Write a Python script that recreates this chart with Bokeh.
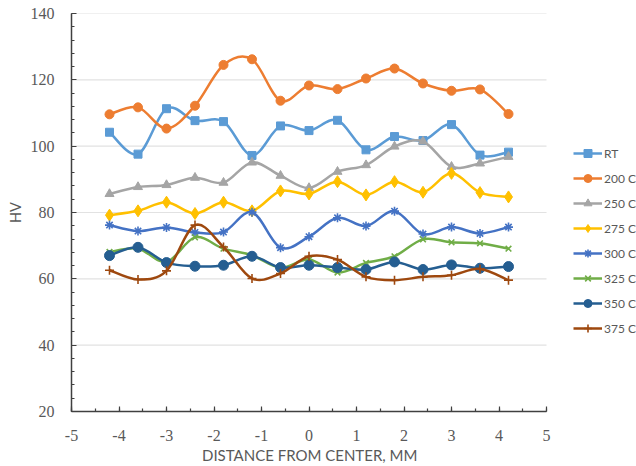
from bokeh.plotting import figure
from bokeh.models import (ColumnDataSource, Range1d, SingleIntervalTicker, Legend, LegendItem, Title)
from bokeh.embed import file_html
from bokeh.resources import INLINE

# ---------------- data ----------------
distance = [-4.2, -3.6, -3.0, -2.4, -1.8, -1.2, -0.6, 0.0, 0.6, 1.2, 1.8, 2.4, 3.0, 3.6, 4.2]

hv_rt   = [104.2, 97.6, 111.3, 107.7, 107.4, 97.2, 106.1, 104.7, 107.8, 98.9, 102.9, 101.7, 106.5, 97.3, 98.2]
hv_200c = [109.6, 111.7, 105.3, 112.2, 124.5, 126.2, 113.7, 118.3, 117.2, 120.4, 123.4, 118.9, 116.7, 117.1, 109.7]
hv_250c = [85.6, 87.7, 88.3, 90.5, 89.0, 95.1, 91.1, 87.4, 92.3, 94.3, 99.9, 101.4, 93.8, 94.8, 96.8]
hv_275c = [79.2, 80.5, 83.1, 79.7, 83.1, 80.5, 86.5, 85.6, 89.3, 85.3, 89.3, 86.1, 91.8, 86.0, 84.7]
hv_300c = [76.2, 74.4, 75.5, 74.0, 74.1, 80.1, 69.4, 72.7, 78.4, 75.9, 80.4, 73.5, 75.6, 73.7, 75.6]
hv_325c = [68.1, 69.1, 65.1, 72.5, 69.1, 67.1, 63.4, 65.8, 61.9, 64.8, 66.8, 71.9, 71.0, 70.7, 69.1]
hv_350c = [67.0, 69.5, 64.9, 63.8, 64.1, 66.8, 63.4, 64.1, 63.4, 62.8, 65.1, 62.8, 64.2, 63.2, 63.7]
hv_375c = [62.6, 59.8, 62.4, 76.2, 69.6, 60.1, 61.6, 66.8, 65.8, 60.6, 59.6, 60.6, 61.1, 63.0, 59.6]

series_names = ["RT", "200 C", "250 C", "275 C", "300 C", "325 C", "350 C", "375 C"]
series_values = [hv_rt, hv_200c, hv_250c, hv_275c, hv_300c, hv_325c, hv_350c, hv_375c]
series_colors = ["#5B9BD5", "#ED7D31", "#A5A5A5", "#FFC000", "#4472C4", "#70AD47", "#255E91", "#9E480E"]
series_markers = ["square", "circle", "triangle", "diamond", "asterisk", "x", "circle", "cross"]
series_sizes = [8, 9, 9, 12, 9, 8, 10, 9]

x_ticks = [-5, -4, -3, -2, -1, 0, 1, 2, 3, 4, 5]
y_ticks = [20, 40, 60, 80, 100, 120, 140]
x_title = "DISTANCE  FROM CENTER, MM"
y_title = "HV"

TICK_FONT = "Liberation Serif"
LABEL_FONT = "Lato"
TEXT_COLOR = "#595959"
AXIS_COLOR = "#404040"

# layout (pixels)
W, H = 636, 466
LEFT, TOP, BOTTOM = 71, 13, 55
AXIS_RIGHT_PX = 546           # where x = 5 sits on the canvas
px_per_unit = (AXIS_RIGHT_PX - LEFT) / (x_ticks[-1] - x_ticks[0])
x_end = x_ticks[-1] + (W - AXIS_RIGHT_PX) / px_per_unit   # frame extends under the legend

p = figure(width=W, height=H, output_backend="svg", toolbar_location=None,
           x_range=Range1d(x_ticks[0], x_end), y_range=Range1d(y_ticks[0], y_ticks[-1]),
           min_border_left=LEFT, min_border_right=0, min_border_top=TOP, min_border_bottom=BOTTOM)
p.outline_line_color = None
p.background_fill_color = "white"
p.border_fill_color = "white"

# axes
p.xaxis.ticker = SingleIntervalTicker(interval=1, num_minor_ticks=2)
p.yaxis.ticker = SingleIntervalTicker(interval=20, num_minor_ticks=5)
p.xaxis.bounds = (x_ticks[0], x_ticks[-1])
p.xaxis.major_label_overrides = {v: str(v) for v in x_ticks}
p.yaxis.major_label_overrides = {v: str(v) for v in y_ticks}
for ax in (p.xaxis[0], p.yaxis[0]):
    ax.axis_line_color = AXIS_COLOR
    ax.axis_line_width = 1.5
    ax.major_tick_line_color = AXIS_COLOR
    ax.minor_tick_line_color = AXIS_COLOR
    ax.major_tick_line_width = 1.2
    ax.minor_tick_line_width = 1.2
    ax.major_tick_in = 5
    ax.major_tick_out = 0
    ax.minor_tick_in = 3
    ax.minor_tick_out = 0
    ax.major_label_text_font = TICK_FONT
    ax.major_label_text_font_size = "16px"
    ax.major_label_text_color = TEXT_COLOR
    ax.axis_label_text_font = LABEL_FONT
    ax.axis_label_text_font_size = "14.5px"
    ax.axis_label_text_font_style = "normal"
    ax.axis_label_text_color = TEXT_COLOR

p.yaxis.axis_label = y_title
p.xaxis.major_label_standoff = 18
p.yaxis.major_label_standoff = 17
p.yaxis.axis_label_standoff = 4

# x-axis title, centred under the -5..5 span (frame itself extends under the legend)
x_title_width = 214
p.add_layout(Title(text=x_title, align="left",
                   offset=(AXIS_RIGHT_PX - LEFT) / 2 - x_title_width / 2,
                   standoff=0, text_font=LABEL_FONT, text_font_size="15px",
                   text_font_style="normal", text_color=TEXT_COLOR), "below")

p.xgrid.grid_line_color = None
p.ygrid.grid_line_color = None
# horizontal gridlines limited to the axis span
p.segment(x0=[x_ticks[0]] * len(y_ticks), x1=[x_ticks[-1]] * len(y_ticks), y0=y_ticks, y1=y_ticks,
          line_color="#e2e2e2", line_width=1.2, level="underlay")


def smooth_segments(xs, ys, t=1.0 / 6.0):
    n = len(xs)
    x0, y0, x1, y1, cx0, cy0, cx1, cy1 = [], [], [], [], [], [], [], []
    for i in range(n - 1):
        ip = max(i - 1, 0)
        inn = min(i + 2, n - 1)
        x0.append(xs[i]); y0.append(ys[i])
        x1.append(xs[i + 1]); y1.append(ys[i + 1])
        cx0.append(xs[i] + (xs[i + 1] - xs[ip]) * t)
        cy0.append(ys[i] + (ys[i + 1] - ys[ip]) * t)
        cx1.append(xs[i + 1] - (xs[inn] - xs[i]) * t)
        cy1.append(ys[i + 1] - (ys[inn] - ys[i]) * t)
    return dict(x0=x0, y0=y0, x1=x1, y1=y1, cx0=cx0, cy0=cy0, cx1=cx1, cy1=cy1)


items = []
for name, vals, col, mk, sz in zip(series_names, series_values, series_colors, series_markers, series_sizes):
    seg = ColumnDataSource(smooth_segments(distance, vals))
    bz = p.bezier(x0="x0", y0="y0", x1="x1", y1="y1", cx0="cx0", cy0="cy0", cx1="cx1", cy1="cy1",
                  source=seg, line_color=col, line_width=2.5)
    pts = ColumnDataSource(dict(x=distance, y=vals))
    lw = 1.6 if mk in ("asterisk", "x", "cross") else 1
    sc = p.scatter(x="x", y="y", source=pts, marker=mk, size=sz,
                   fill_color=col, line_color=col, line_width=lw)
    items.append(LegendItem(label=name, renderers=[bz, sc]))

legend = Legend(items=items, location=(AXIS_RIGHT_PX - LEFT + 27, 73), orientation="vertical",
                glyph_width=29, glyph_height=20, label_height=20, spacing=5,
                label_standoff=2, padding=0, margin=0,
                border_line_color=None, background_fill_alpha=0,
                label_text_font=LABEL_FONT, label_text_font_size="12px",
                label_text_color=TEXT_COLOR)
p.add_layout(legend, "center")

open("out.html", "w").write(file_html(p, INLINE))
